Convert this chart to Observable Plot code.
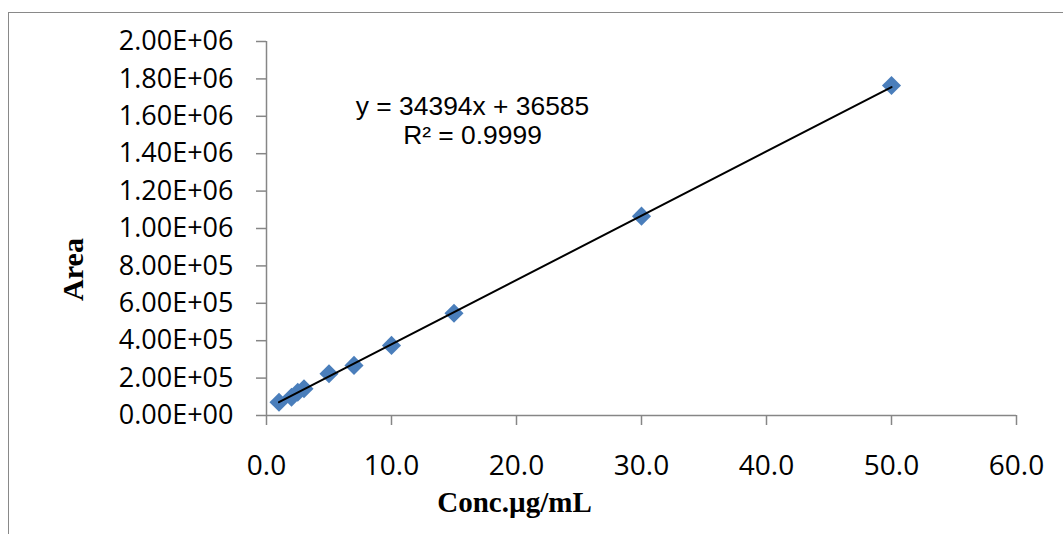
<!DOCTYPE html>
<html>
<head>
<meta charset="utf-8">
<script src="https://cdn.jsdelivr.net/npm/d3@7"></script>
<script src="https://cdn.jsdelivr.net/npm/@observablehq/plot@0.6"></script>
<style>
  html, body { margin: 0; padding: 0; background: #fff; overflow: hidden; }
  #wrap { position: relative; width: 1063px; height: 534px; overflow: hidden; }
  #border { position: absolute; left: 8px; top: 12px; width: 1200px; height: 700px; border: 1.5px solid #898989; box-sizing: border-box; pointer-events: none; }
  #chart { position: absolute; left: 0; top: 0; }
</style>
</head>
<body>
<div id="wrap"><div id="chart"></div><div id="border"></div></div>
<script>
// Data
const concX = [1, 2, 2.5, 3, 5, 7, 10, 15, 30, 50];
const area  = [71000, 98000, 124000, 143000, 223000, 268000, 375000, 547000, 1066000, 1765000];

// Trendline (from the label on the chart)
const slope = 34394;
const intercept = 36585;
const trendX = [1, 50];
const eqLabel = "y = 34394x + 36585";
const r2Label = "R² = 0.9999";

// Axes
const xTicks = [0, 10, 20, 30, 40, 50, 60];
const xTickLabels = ["0.0", "10.0", "20.0", "30.0", "40.0", "50.0", "60.0"];
const yTicks = [0, 200000, 400000, 600000, 800000, 1000000, 1200000, 1400000, 1600000, 1800000, 2000000];
const yTickLabels = ["0.00E+00", "2.00E+05", "4.00E+05", "6.00E+05", "8.00E+05", "1.00E+06", "1.20E+06", "1.40E+06", "1.60E+06", "1.80E+06", "2.00E+06"];
const xTitle = "Conc.µg/mL";
const yTitle = "Area";

const points = concX.map((x, i) => ({x, y: area[i]}));
const trend = trendX.map(x => ({x, y: slope * x + intercept}));

const axisGray = "#868686";
const sans = "'Open Sans', sans-serif";
const eqFont = "'Liberation Sans', Arial, sans-serif";
const serif = "'Liberation Serif', 'Times New Roman', serif";

const chart = Plot.plot({
  width: 1063,
  height: 534,
  marginLeft: 266,
  marginRight: 47,
  marginTop: 41,
  marginBottom: 119,
  style: {fontFamily: sans, color: "black", background: "transparent", overflow: "visible"},
  x: {domain: [0, 60]},
  y: {domain: [0, 2000000]},
  marks: [
    Plot.axisX({ticks: xTicks, tickFormat: d => xTickLabels[xTicks.indexOf(d)], tickSize: 10, tickPadding: 30,
      stroke: axisGray, strokeWidth: 1.5, fill: "black", fontSize: 28, label: null}),
    Plot.axisY({ticks: yTicks, tickFormat: d => yTickLabels[yTicks.indexOf(d)], tickSize: 10, tickPadding: 23,
      stroke: axisGray, strokeWidth: 1.5, fill: "black", fontSize: 27, label: null}),
    Plot.ruleX([0], {stroke: axisGray, strokeWidth: 1.5}),
    Plot.ruleY([0], {stroke: axisGray, strokeWidth: 1.5}),
    Plot.dot(points, {x: "x", y: "y", symbol: "diamond2", r: 8.6, fill: "#4A7EBB", stroke: "none"}),
    Plot.line(trend, {x: "x", y: "y", stroke: "black", strokeWidth: 2}),
    Plot.text([eqLabel + "\n" + r2Label], {text: d => d, frameAnchor: "top-left", dx: 206, dy: 52.3, textAnchor: "middle",
      lineAnchor: "top", lineHeight: 1.12, fontSize: 26.4, fontFamily: eqFont, fill: "black"}),
    Plot.text([xTitle], {text: d => d, frameAnchor: "bottom", dx: -127, dy: 96, textAnchor: "middle", lineAnchor: "bottom",
      fontSize: 29, fontWeight: "bold", fontFamily: serif, fill: "black"}),
    Plot.text([yTitle], {text: d => d, frameAnchor: "left", dx: -184, dy: 41, rotate: -90, textAnchor: "middle", lineAnchor: "bottom",
      fontSize: 30, fontWeight: "bold", fontFamily: serif, fill: "black"})
  ]
});
document.getElementById("chart").appendChild(chart);
</script>
</body>
</html>
